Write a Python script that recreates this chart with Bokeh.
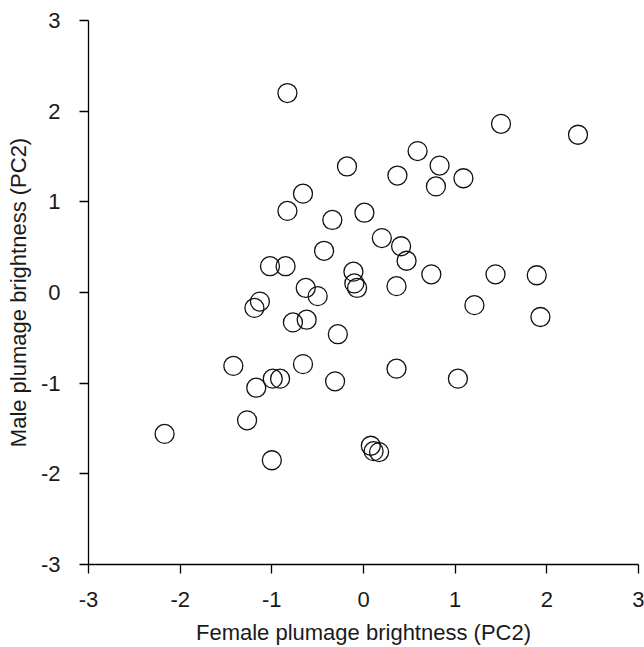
from bokeh.plotting import figure
from bokeh.models import Range1d, FixedTicker
from bokeh.embed import file_html
from bokeh.resources import INLINE

# Data
female_pc2 = [-0.83, -0.66, -0.83, -0.34, -0.43, -1.02, -0.85, -0.63, -0.50, -1.13,
              -1.19, -0.77, -0.62, -1.42, -0.66, -0.99, -0.91, -1.17, -1.27, -2.17,
              -1.00, -0.31, -0.28, 1.50, 2.34, 0.59, -0.18, 0.37, 0.83, 1.09,
              0.79, 0.01, 0.20, 0.41, 0.47, -0.11, -0.10, -0.07, 0.36, 0.74,
              1.44, 1.89, 1.21, 1.93, 0.36, 1.03, 0.08, 0.11, 0.17]
male_pc2 = [2.20, 1.09, 0.90, 0.80, 0.46, 0.29, 0.29, 0.05, -0.04, -0.10,
            -0.17, -0.33, -0.30, -0.81, -0.79, -0.95, -0.95, -1.05, -1.41, -1.56,
            -1.85, -0.98, -0.46, 1.86, 1.74, 1.56, 1.39, 1.29, 1.40, 1.26,
            1.17, 0.88, 0.60, 0.51, 0.35, 0.23, 0.10, 0.05, 0.07, 0.20,
            0.20, 0.19, -0.14, -0.27, -0.84, -0.95, -1.69, -1.75, -1.76]
tick_values = [-3, -2, -1, 0, 1, 2, 3]
tick_labels = ["-3", "-2", "-1", "0", "1", "2", "3"]

FONT = "Liberation Sans"
TEXT = "#1a1a1a"

p = figure(width=644, height=647, output_backend="svg", toolbar_location=None,
           x_range=Range1d(-3, 3), y_range=Range1d(-3, 3),
           min_border_left=88, min_border_right=6, min_border_top=20, min_border_bottom=79)
p.outline_line_color = None
p.grid.visible = False

p.scatter(female_pc2, male_pc2, marker="circle", size=19, fill_color=None,
          line_color="#111111", line_width=1.3)

p.xaxis.axis_label = "Female plumage brightness (PC2)"
p.yaxis.axis_label = "Male plumage brightness (PC2)"

for ax in (p.xaxis[0], p.yaxis[0]):
    ax.ticker = FixedTicker(ticks=tick_values)
    ax.major_label_overrides = {v: s for v, s in zip(tick_values, tick_labels)}
    ax.minor_tick_line_color = None
    ax.major_tick_in = 0
    ax.major_tick_out = 9
    ax.axis_line_width = 1.3
    ax.major_tick_line_width = 1.3
    ax.axis_line_color = "black"
    ax.major_tick_line_color = "black"
    ax.major_label_text_font = FONT
    ax.major_label_text_font_size = "22px"
    ax.major_label_text_color = TEXT
    ax.axis_label_text_font = FONT
    ax.axis_label_text_font_size = "22px"
    ax.axis_label_text_font_style = "normal"
    ax.axis_label_text_color = TEXT

p.xaxis.major_label_standoff = 18
p.xaxis.axis_label_standoff = 10
p.yaxis.major_label_standoff = 19
p.yaxis.axis_label_standoff = 7

open("out.html", "w").write(file_html(p, INLINE))
